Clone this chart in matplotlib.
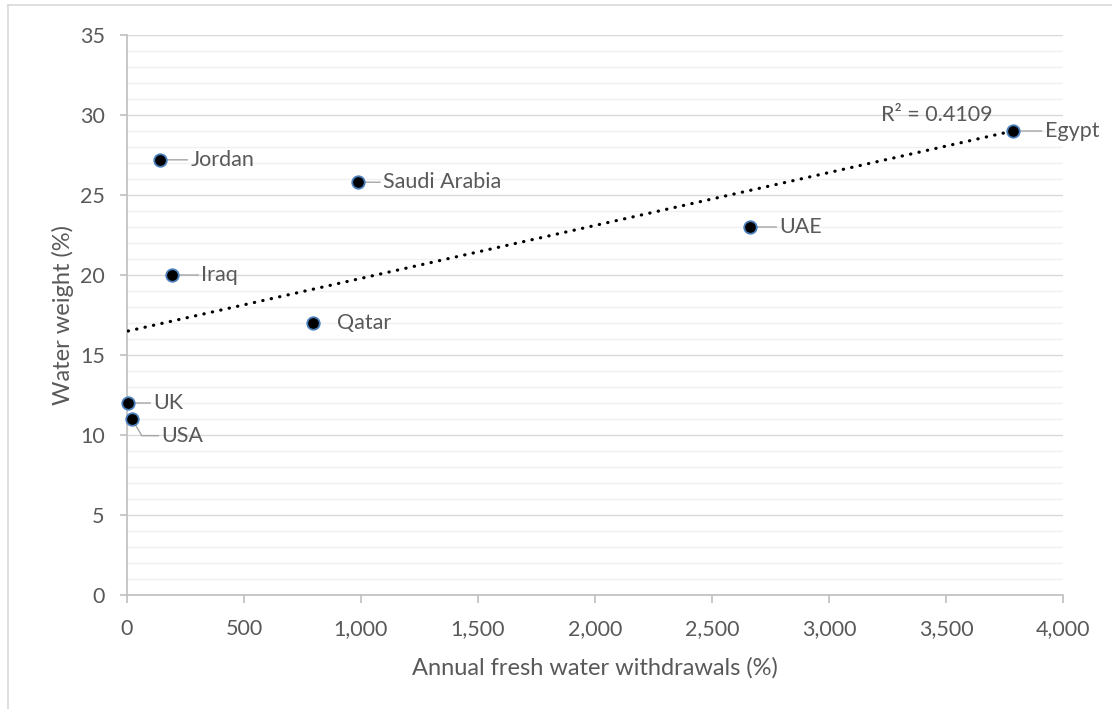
import matplotlib.pyplot as plt
from matplotlib.lines import Line2D
from matplotlib.ticker import MultipleLocator, FuncFormatter

# values
countries = ['Jordan', 'Saudi Arabia', 'Egypt', 'UAE', 'Iraq', 'Qatar', 'UK', 'USA']
withdrawals = [140, 987, 3785, 2663, 193, 796, 5, 22]
water_weight = [27.2, 25.8, 29.0, 23.0, 20.0, 17.0, 12.0, 11.0]

# trendline as drawn (start/end values)
trend_x = [5, 3785]
trend_y = [16.5, 29.0]
r2_text = 'R\u00b2 = 0.4109'

# label offsets in points (dx, dy), leader style
label_offsets = {
    'Jordan': (22, 0), 'Saudi Arabia': (18, 0), 'Egypt': (23, 0), 'UAE': (21, 0),
    'Iraq': (21, 0), 'Qatar': (17, 0), 'UK': (18, 0), 'USA': (21, -12),
}
no_leader = ['Qatar']

plt.rcParams['font.family'] = ['Lato', 'DejaVu Sans']
text_col = '#595959'
axis_col = '#bfbfbf'
tick_fs = 15.5
label_fs = 15.5
title_fs = 17

fig = plt.figure(figsize=(11.12, 7.09), dpi=100)
ax = fig.add_axes([0.1142, 0.1608, 0.8417, 0.7898])

# chart area border (left and top visible)
fig.add_artist(Line2D([8 / 1112, 8 / 1112], [0, 1 - 5 / 709], color='#d9d9d9', lw=1.2))
fig.add_artist(Line2D([8 / 1112, 1], [1 - 5 / 709, 1 - 5 / 709], color='#d9d9d9', lw=1.2))

ax.set_xlim(0, 4000)
ax.set_ylim(0, 35)
ax.xaxis.set_major_locator(MultipleLocator(500))
ax.yaxis.set_major_locator(MultipleLocator(5))
ax.yaxis.set_minor_locator(MultipleLocator(1))
ax.xaxis.set_major_formatter(FuncFormatter(lambda v, p: f'{int(v):,}'))

ax.grid(axis='y', which='major', color='#d9d9d9', lw=1.0, zorder=0)
ax.grid(axis='y', which='minor', color='#f0f0f0', lw=1.0, zorder=0)
ax.set_axisbelow(True)

for s in ['top', 'right']:
    ax.spines[s].set_visible(False)
for s in ['left', 'bottom']:
    ax.spines[s].set_color(axis_col)
    ax.spines[s].set_linewidth(1.2)

ax.tick_params(axis='y', which='major', length=5, width=1.2, color=axis_col,
               labelcolor=text_col, labelsize=tick_fs, pad=11)
ax.tick_params(axis='y', which='minor', length=0)
ax.tick_params(axis='x', which='major', length=6, width=1.2, color=axis_col,
               labelcolor=text_col, labelsize=tick_fs, pad=11)

ax.set_xlabel('Annual fresh water withdrawals (%)', color=text_col, fontsize=title_fs, labelpad=13)
ax.set_ylabel('Water weight (%)', color=text_col, fontsize=title_fs, labelpad=4)

ax.plot(trend_x, trend_y, color='black', lw=2.3,
        linestyle=(0, (0.1, 2.6)), dash_capstyle='round', zorder=3)
ax.text(3700, 30.0, r2_text, ha='right', va='center', color=text_col, fontsize=label_fs)

ax.plot(withdrawals, water_weight, 'o', ms=9, mfc='black', mec='#4a7ebb', mew=1.3,
        zorder=5, clip_on=False)

for name, x, y in zip(countries, withdrawals, water_weight):
    dx, dy = label_offsets[name]
    if name in no_leader:
        arrow = None
    elif dy != 0:
        arrow = dict(arrowstyle='-', color='#a6a6a6', lw=1.0, shrinkA=0, shrinkB=0,
                     connectionstyle='angle,angleA=0,angleB=-60,rad=0')
    else:
        arrow = dict(arrowstyle='-', color='#a6a6a6', lw=1.0, shrinkA=0, shrinkB=0)
    ax.annotate(name, (x, y), xytext=(dx, dy), textcoords='offset points',
                ha='left', va='center', color=text_col, fontsize=label_fs,
                arrowprops=arrow, annotation_clip=False, zorder=4)

fig.savefig('out.png', dpi=100)
